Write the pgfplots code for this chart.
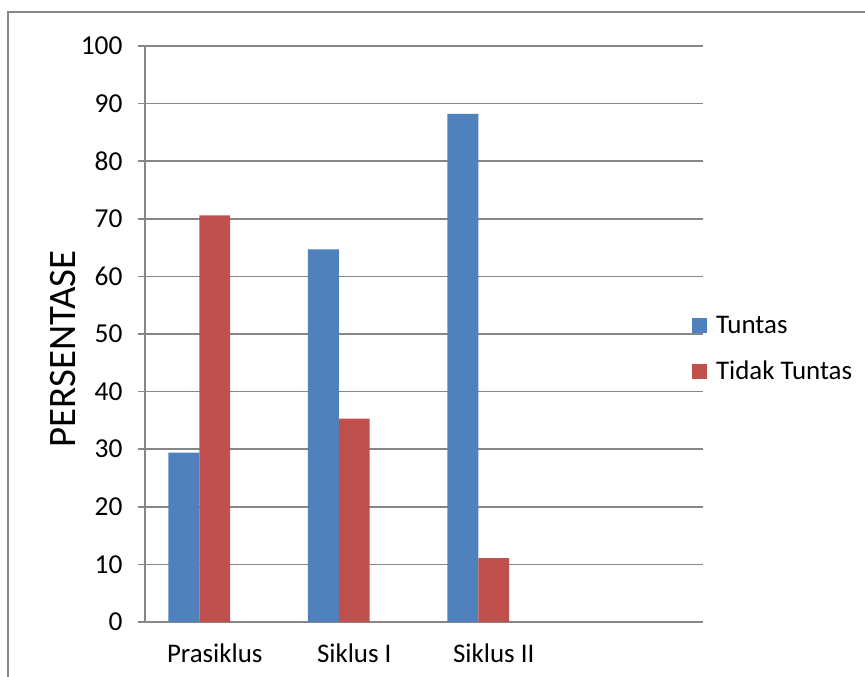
\documentclass[border=0pt]{standalone}
\usepackage{fontspec}
\setmainfont{Carlito}
\usepackage{pgfplots}
\pgfplotsset{compat=1.18}

\definecolor{tuntas}{HTML}{4F81BD}
\definecolor{tidak}{HTML}{C0504D}
\definecolor{gridgray}{HTML}{868686}

\begin{document}
\begin{tikzpicture}
% page = original 865x677 image, plot area lower-left at the origin
\useasboundingbox (-145bp,-55bp) rectangle (720bp,622bp);
\draw[gridgray, line width=1.3bp] (-137bp,-70bp) -- (-137bp,610bp) -- (740bp,610bp);

\begin{axis}[
    at={(0,0)}, anchor=south west,
    scale only axis,
    width=558bp, height=576bp,
    ybar,
    bar width=0.222,
    xmin=-0.5, xmax=3.5,
    ymin=0, ymax=100,
    ytick={0,10,...,100},
    xtick={0,1,2},
    xticklabels={Prasiklus, Siklus I, Siklus II},
    x tick style={draw=none},
    extra x ticks={-0.5,0.5,1.5,2.5,3.5},
    extra x tick labels={},
    extra x tick style={tick style={draw=gridgray, line width=1.5bp}, major tick length=8bp, grid=none},
    axis x line*=bottom,
    axis y line*=left,
    axis line style={draw=gridgray, line width=1.5bp, -},
    tick align=outside,
    y tick style={draw=gridgray, line width=1.5bp},
    major tick length=7bp,
    ymajorgrids=true,
    grid style={draw=gridgray, line width=1.5bp},
    /pgf/number format/assume math mode=true,
    yticklabel style={font=\fontsize{27.5}{27.5}\selectfont, xshift=-12bp},
    xticklabel style={font=\fontsize{27}{27}\selectfont, yshift=-11bp},
    ylabel={PERSENTASE},
    every axis y label/.style={at={(axis description cs:0,0.474)}, xshift=-82bp,
        rotate=90, anchor=center, font=\fontsize{39}{39}\selectfont},
    legend style={at={(0.98,0.474)}, anchor=west, draw=none, fill=none,
        inner sep=0pt, row sep=22bp, font=\fontsize{27}{27}\selectfont,
        legend cell align=left},
    legend image code/.code={\fill[#1, draw=none] (0bp,-7.5bp) rectangle (15bp,7.5bp); \path (22bp,0bp);},
]
\addplot[fill=tuntas, draw=none, bar shift=-0.222] coordinates {(0,29.4) (1,64.7) (2,88.2)};
\addlegendentry{Tuntas}
\addplot[fill=tidak, draw=none, bar shift=0] coordinates {(0,70.6) (1,35.3) (2,11.1)};
\addlegendentry{Tidak Tuntas}
\end{axis}
\end{tikzpicture}
\end{document}
